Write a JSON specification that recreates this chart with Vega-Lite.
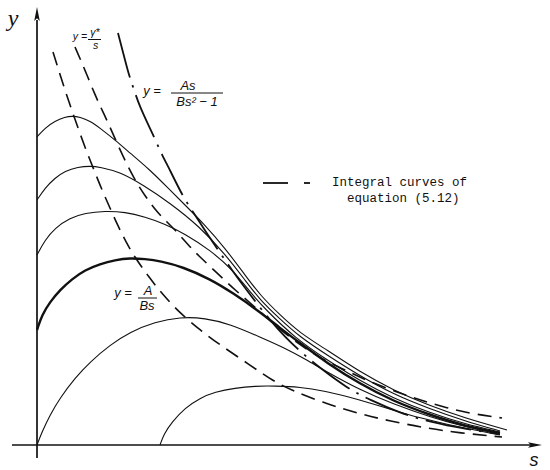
{
  "$schema": "https://vega.github.io/schema/vega-lite/v6.json",
  "width": 550,
  "height": 470,
  "autosize": {"type": "fit", "contains": "padding"},
  "padding": 0,
  "background": "white",
  "config": {"view": {"stroke": null}},
  "datasets": {
    "curves": [
      {"curve": "c1", "s": 0.0, "y": 30.8}, {"curve": "c1", "s": 0.8, "y": 31.7}, {"curve": "c1", "s": 1.8, "y": 32.4}, {"curve": "c1", "s": 2.8, "y": 32.8}, {"curve": "c1", "s": 3.5, "y": 32.9}, {"curve": "c1", "s": 4.3, "y": 32.8}, {"curve": "c1", "s": 5.3, "y": 32.4}, {"curve": "c1", "s": 6.3, "y": 31.7}, {"curve": "c1", "s": 7.8, "y": 30.5}, {"curve": "c1", "s": 9.3, "y": 29.2}, {"curve": "c1", "s": 11.3, "y": 27.5}, {"curve": "c1", "s": 13.0, "y": 25.8}, {"curve": "c1", "s": 14.8, "y": 24.0}, {"curve": "c1", "s": 16.6, "y": 22.2}, {"curve": "c1", "s": 18.8, "y": 19.7}, {"curve": "c1", "s": 20.8, "y": 17.0}, {"curve": "c1", "s": 22.3, "y": 15.0}, {"curve": "c1", "s": 24.3, "y": 13.0}, {"curve": "c1", "s": 26.3, "y": 11.2}, {"curve": "c1", "s": 29.0, "y": 9.5}, {"curve": "c1", "s": 32.3, "y": 7.3}, {"curve": "c1", "s": 35.6, "y": 5.5}, {"curve": "c1", "s": 39.3, "y": 3.9}, {"curve": "c1", "s": 42.8, "y": 2.7}, {"curve": "c1", "s": 47.0, "y": 1.5},
      {"curve": "c2", "s": 0.0, "y": 24.5}, {"curve": "c2", "s": 0.8, "y": 25.7}, {"curve": "c2", "s": 1.8, "y": 26.7}, {"curve": "c2", "s": 2.8, "y": 27.4}, {"curve": "c2", "s": 4.1, "y": 27.8}, {"curve": "c2", "s": 5.3, "y": 27.9}, {"curve": "c2", "s": 6.3, "y": 27.8}, {"curve": "c2", "s": 8.3, "y": 27.3}, {"curve": "c2", "s": 10.6, "y": 26.0}, {"curve": "c2", "s": 13.3, "y": 24.2}, {"curve": "c2", "s": 16.3, "y": 21.8}, {"curve": "c2", "s": 18.8, "y": 19.1}, {"curve": "c2", "s": 20.8, "y": 16.5}, {"curve": "c2", "s": 22.3, "y": 14.5}, {"curve": "c2", "s": 24.3, "y": 12.6}, {"curve": "c2", "s": 26.3, "y": 10.8}, {"curve": "c2", "s": 29.0, "y": 9.0}, {"curve": "c2", "s": 32.3, "y": 6.9}, {"curve": "c2", "s": 35.6, "y": 5.1}, {"curve": "c2", "s": 39.3, "y": 3.6}, {"curve": "c2", "s": 42.8, "y": 2.4}, {"curve": "c2", "s": 46.3, "y": 1.4},
      {"curve": "c3", "s": 0.0, "y": 19.0}, {"curve": "c3", "s": 0.8, "y": 20.5}, {"curve": "c3", "s": 1.8, "y": 21.7}, {"curve": "c3", "s": 3.3, "y": 22.7}, {"curve": "c3", "s": 4.8, "y": 23.2}, {"curve": "c3", "s": 6.8, "y": 23.4}, {"curve": "c3", "s": 8.8, "y": 23.3}, {"curve": "c3", "s": 10.8, "y": 22.8}, {"curve": "c3", "s": 12.8, "y": 22.1}, {"curve": "c3", "s": 14.8, "y": 21.1}, {"curve": "c3", "s": 17.3, "y": 19.5}, {"curve": "c3", "s": 19.6, "y": 17.5}, {"curve": "c3", "s": 21.3, "y": 15.3}, {"curve": "c3", "s": 22.8, "y": 13.6}, {"curve": "c3", "s": 25.8, "y": 10.7}, {"curve": "c3", "s": 29.0, "y": 8.5}, {"curve": "c3", "s": 32.3, "y": 6.4}, {"curve": "c3", "s": 35.6, "y": 4.7}, {"curve": "c3", "s": 39.3, "y": 3.2}, {"curve": "c3", "s": 42.8, "y": 2.1}, {"curve": "c3", "s": 46.3, "y": 1.3},
      {"curve": "c4", "s": 0.0, "y": 11.5}, {"curve": "c4", "s": 0.5, "y": 13.0}, {"curve": "c4", "s": 1.3, "y": 14.3}, {"curve": "c4", "s": 2.3, "y": 15.5}, {"curve": "c4", "s": 3.5, "y": 16.6}, {"curve": "c4", "s": 4.8, "y": 17.5}, {"curve": "c4", "s": 6.3, "y": 18.1}, {"curve": "c4", "s": 7.8, "y": 18.5}, {"curve": "c4", "s": 9.3, "y": 18.7}, {"curve": "c4", "s": 10.8, "y": 18.6}, {"curve": "c4", "s": 12.3, "y": 18.4}, {"curve": "c4", "s": 14.6, "y": 17.8}, {"curve": "c4", "s": 17.3, "y": 16.6}, {"curve": "c4", "s": 19.6, "y": 15.2}, {"curve": "c4", "s": 22.3, "y": 13.3}, {"curve": "c4", "s": 24.3, "y": 11.7}, {"curve": "c4", "s": 26.3, "y": 10.2}, {"curve": "c4", "s": 29.0, "y": 8.2}, {"curve": "c4", "s": 32.3, "y": 6.1}, {"curve": "c4", "s": 35.6, "y": 4.4}, {"curve": "c4", "s": 39.3, "y": 3.0}, {"curve": "c4", "s": 42.8, "y": 1.9}, {"curve": "c4", "s": 46.3, "y": 1.2},
      {"curve": "c5", "s": 0.0, "y": 0.0}, {"curve": "c5", "s": 0.5, "y": 1.3}, {"curve": "c5", "s": 1.3, "y": 3.0}, {"curve": "c5", "s": 2.3, "y": 4.7}, {"curve": "c5", "s": 3.8, "y": 6.7}, {"curve": "c5", "s": 5.3, "y": 8.3}, {"curve": "c5", "s": 7.3, "y": 10.0}, {"curve": "c5", "s": 9.3, "y": 11.3}, {"curve": "c5", "s": 11.8, "y": 12.3}, {"curve": "c5", "s": 14.3, "y": 12.8}, {"curve": "c5", "s": 16.8, "y": 12.7}, {"curve": "c5", "s": 19.3, "y": 12.1}, {"curve": "c5", "s": 22.3, "y": 10.8}, {"curve": "c5", "s": 24.8, "y": 9.7}, {"curve": "c5", "s": 27.0, "y": 8.5}, {"curve": "c5", "s": 29.0, "y": 7.3}, {"curve": "c5", "s": 32.3, "y": 5.5}, {"curve": "c5", "s": 35.6, "y": 4.1}, {"curve": "c5", "s": 39.3, "y": 2.8}, {"curve": "c5", "s": 42.8, "y": 1.8}, {"curve": "c5", "s": 46.3, "y": 1.1},
      {"curve": "c6", "s": 12.3, "y": 0.0}, {"curve": "c6", "s": 12.7, "y": 1.1}, {"curve": "c6", "s": 13.5, "y": 2.3}, {"curve": "c6", "s": 14.8, "y": 3.7}, {"curve": "c6", "s": 16.3, "y": 4.7}, {"curve": "c6", "s": 17.8, "y": 5.3}, {"curve": "c6", "s": 19.8, "y": 5.7}, {"curve": "c6", "s": 21.8, "y": 5.9}, {"curve": "c6", "s": 23.8, "y": 5.9}, {"curve": "c6", "s": 26.3, "y": 5.8}, {"curve": "c6", "s": 28.8, "y": 5.4}, {"curve": "c6", "s": 30.8, "y": 4.9}, {"curve": "c6", "s": 33.3, "y": 4.2}, {"curve": "c6", "s": 35.6, "y": 3.5}, {"curve": "c6", "s": 38.3, "y": 2.7}, {"curve": "c6", "s": 41.3, "y": 2.0}, {"curve": "c6", "s": 43.8, "y": 1.5}, {"curve": "c6", "s": 46.3, "y": 1.0},
      {"curve": "d1", "s": 1.6, "y": 39.3}, {"curve": "d1", "s": 2.1, "y": 37.7}, {"curve": "d1", "s": 2.6, "y": 36.1}, {"curve": "d1", "s": 3.3, "y": 34.0}, {"curve": "d1", "s": 4.1, "y": 31.7}, {"curve": "d1", "s": 4.9, "y": 29.5}, {"curve": "d1", "s": 5.7, "y": 27.5}, {"curve": "d1", "s": 6.5, "y": 25.5}, {"curve": "d1", "s": 7.3, "y": 23.7}, {"curve": "d1", "s": 8.1, "y": 21.9}, {"curve": "d1", "s": 8.9, "y": 20.3}, {"curve": "d1", "s": 9.7, "y": 18.9}, {"curve": "d1", "s": 11.1, "y": 16.9}, {"curve": "d1", "s": 12.6, "y": 15.0}, {"curve": "d1", "s": 14.3, "y": 13.2}, {"curve": "d1", "s": 16.3, "y": 11.5}, {"curve": "d1", "s": 18.3, "y": 10.0}, {"curve": "d1", "s": 21.3, "y": 8.0}, {"curve": "d1", "s": 23.6, "y": 6.4}, {"curve": "d1", "s": 25.6, "y": 5.4}, {"curve": "d1", "s": 29.0, "y": 4.1}, {"curve": "d1", "s": 32.3, "y": 3.1}, {"curve": "d1", "s": 35.3, "y": 2.4}, {"curve": "d1", "s": 38.8, "y": 1.7}, {"curve": "d1", "s": 42.3, "y": 1.2}, {"curve": "d1", "s": 46.5, "y": 0.8},
      {"curve": "d2", "s": 3.8, "y": 39.8}, {"curve": "d2", "s": 4.8, "y": 37.5}, {"curve": "d2", "s": 5.8, "y": 35.0}, {"curve": "d2", "s": 6.6, "y": 33.3}, {"curve": "d2", "s": 7.3, "y": 31.8}, {"curve": "d2", "s": 8.3, "y": 29.5}, {"curve": "d2", "s": 9.6, "y": 26.8}, {"curve": "d2", "s": 10.8, "y": 24.9}, {"curve": "d2", "s": 12.0, "y": 23.3}, {"curve": "d2", "s": 13.0, "y": 22.3}, {"curve": "d2", "s": 14.0, "y": 21.3}, {"curve": "d2", "s": 15.3, "y": 19.8}, {"curve": "d2", "s": 16.3, "y": 18.8}, {"curve": "d2", "s": 18.0, "y": 17.2}, {"curve": "d2", "s": 19.8, "y": 15.5}, {"curve": "d2", "s": 21.8, "y": 13.8}, {"curve": "d2", "s": 24.0, "y": 11.8}, {"curve": "d2", "s": 26.3, "y": 10.0}, {"curve": "d2", "s": 28.3, "y": 8.7}, {"curve": "d2", "s": 30.8, "y": 7.5}, {"curve": "d2", "s": 33.3, "y": 6.3}, {"curve": "d2", "s": 36.0, "y": 5.3}, {"curve": "d2", "s": 38.3, "y": 4.5}, {"curve": "d2", "s": 41.0, "y": 3.7}, {"curve": "d2", "s": 43.6, "y": 3.1}, {"curve": "d2", "s": 46.5, "y": 2.7},
      {"curve": "dd", "s": 8.1, "y": 41.2}, {"curve": "dd", "s": 8.6, "y": 39.3}, {"curve": "dd", "s": 9.1, "y": 37.3}, {"curve": "dd", "s": 9.7, "y": 35.5}, {"curve": "dd", "s": 10.3, "y": 33.8}, {"curve": "dd", "s": 11.0, "y": 32.3}, {"curve": "dd", "s": 11.8, "y": 30.6}, {"curve": "dd", "s": 12.5, "y": 29.0}, {"curve": "dd", "s": 13.3, "y": 27.5}, {"curve": "dd", "s": 14.6, "y": 24.8}, {"curve": "dd", "s": 15.8, "y": 23.0}, {"curve": "dd", "s": 17.1, "y": 21.0}, {"curve": "dd", "s": 18.3, "y": 19.2}, {"curve": "dd", "s": 19.5, "y": 17.5}, {"curve": "dd", "s": 20.8, "y": 15.7}, {"curve": "dd", "s": 22.1, "y": 14.0}, {"curve": "dd", "s": 23.3, "y": 12.5}, {"curve": "dd", "s": 24.8, "y": 10.8}, {"curve": "dd", "s": 26.5, "y": 9.2}, {"curve": "dd", "s": 28.3, "y": 7.7}, {"curve": "dd", "s": 31.0, "y": 5.7}, {"curve": "dd", "s": 33.3, "y": 4.5}, {"curve": "dd", "s": 36.3, "y": 3.2}, {"curve": "dd", "s": 39.3, "y": 2.3}, {"curve": "dd", "s": 42.8, "y": 1.6}, {"curve": "dd", "s": 46.3, "y": 1.1}
    ],
    "axes": [
      {"axis": "s", "s": -2.5, "y": 0}, {"axis": "s", "s": 50.0, "y": 0},
      {"axis": "y", "s": 0, "y": -1.3}, {"axis": "y", "s": 0, "y": 42.5}
    ],
    "arrows": [
      {"axis": "s", "s": 49.8, "y": 0},
      {"axis": "y", "s": 0, "y": 43.1}
    ],
    "rules": [
      {"kind": "bar", "s": 5.1, "s2": 6.4, "y": 40.55},
      {"kind": "bar", "s": 13.4, "s2": 18.6, "y": 35.2},
      {"kind": "bar", "s": 10.1, "s2": 12.0, "y": 14.7},
      {"kind": "key", "s": 22.6, "s2": 25.1, "y": 26.2},
      {"kind": "key", "s": 26.7, "s2": 27.3, "y": 26.2}
    ],
    "labels": [
      {"group": "mathsmall", "s": 4.3, "y": 40.8, "text": "y ="},
      {"group": "mathsmall", "s": 5.8, "y": 41.25, "text": "γ*"},
      {"group": "mathsmall", "s": 5.85, "y": 39.95, "text": "s"},
      {"group": "math", "s": 11.5, "y": 35.4, "text": "y ="},
      {"group": "math", "s": 15.1, "y": 35.95, "text": "As"},
      {"group": "math", "s": 16.0, "y": 34.35, "text": "Bs² − 1"},
      {"group": "math", "s": 8.6, "y": 15.2, "text": "y ="},
      {"group": "math", "s": 11.1, "y": 15.4, "text": "A"},
      {"group": "math", "s": 11.0, "y": 13.9, "text": "Bs"},
      {"group": "axisy", "s": -2.4, "y": 42.6, "text": "y"},
      {"group": "axiss", "s": 49.7, "y": -1.6, "text": "s"},
      {"group": "legend", "s": 29.5, "y": 26.3, "text": "Integral curves of"},
      {"group": "legend", "s": 31.0, "y": 24.7, "text": "equation (5.12)"}
    ]
  },
  "encoding": {
    "x": {"field": "s", "type": "quantitative", "scale": {"domain": [-3.7, 51.3], "nice": false, "zero": false}, "axis": null},
    "y": {"field": "y", "type": "quantitative", "scale": {"domain": [-2.5, 44.5], "nice": false, "zero": false}, "axis": null}
  },
  "layer": [
    {
      "data": {"name": "curves"},
      "transform": [{"filter": "indexof(['c1','c2','c3','c5','c6'], datum.curve) >= 0"}],
      "mark": {"type": "line", "color": "#111", "strokeWidth": 1.1, "interpolate": "basis"},
      "encoding": {"detail": {"field": "curve"}}
    },
    {
      "data": {"name": "curves"},
      "transform": [{"filter": "datum.curve === 'c4'"}],
      "mark": {"type": "line", "color": "#111", "strokeWidth": 2.4, "interpolate": "basis"},
      "encoding": {"detail": {"field": "curve"}}
    },
    {
      "data": {"name": "curves"},
      "transform": [{"filter": "datum.curve === 'd1' || datum.curve === 'd2'"}],
      "mark": {"type": "line", "color": "#111", "strokeWidth": 1.6, "strokeDash": [14, 8], "interpolate": "basis"},
      "encoding": {"detail": {"field": "curve"}}
    },
    {
      "data": {"name": "curves"},
      "transform": [{"filter": "datum.curve === 'dd'"}],
      "mark": {"type": "line", "color": "#111", "strokeWidth": 1.8, "strokeDash": [46, 8, 2.5, 8], "interpolate": "basis"},
      "encoding": {"detail": {"field": "curve"}}
    },
    {
      "data": {"name": "axes"},
      "mark": {"type": "line", "color": "#111", "strokeWidth": 1.7},
      "encoding": {"detail": {"field": "axis"}}
    },
    {
      "data": {"name": "arrows"},
      "transform": [{"filter": "datum.axis === 's'"}],
      "mark": {"type": "point", "filled": true, "color": "#111", "opacity": 1, "size": 196, "shape": "M-1,-0.4L1,0L-1,0.4L-0.6,0Z"}
    },
    {
      "data": {"name": "arrows"},
      "transform": [{"filter": "datum.axis === 'y'"}],
      "mark": {"type": "point", "filled": true, "color": "#111", "opacity": 1, "size": 196, "shape": "M-0.4,1L0,-1L0.4,1L0,0.6Z"}
    },
    {
      "data": {"name": "rules"},
      "transform": [{"filter": "datum.kind === 'bar'"}],
      "mark": {"type": "rule", "color": "#111", "strokeWidth": 1},
      "encoding": {"x2": {"field": "s2"}}
    },
    {
      "data": {"name": "rules"},
      "transform": [{"filter": "datum.kind === 'key'"}],
      "mark": {"type": "rule", "color": "#111", "strokeWidth": 1.8},
      "encoding": {"x2": {"field": "s2"}}
    },
    {
      "data": {"name": "labels"},
      "transform": [{"filter": "datum.group === 'mathsmall'"}],
      "mark": {"type": "text", "font": "Liberation Sans", "fontStyle": "italic", "fontSize": 10.5, "color": "#111", "align": "center", "baseline": "middle"},
      "encoding": {"text": {"field": "text"}}
    },
    {
      "data": {"name": "labels"},
      "transform": [{"filter": "datum.group === 'math'"}],
      "mark": {"type": "text", "font": "Liberation Sans", "fontStyle": "italic", "fontSize": 13, "color": "#111", "align": "center", "baseline": "middle"},
      "encoding": {"text": {"field": "text"}}
    },
    {
      "data": {"name": "labels"},
      "transform": [{"filter": "datum.group === 'axisy'"}],
      "mark": {"type": "text", "font": "Liberation Serif", "fontStyle": "italic", "fontSize": 24, "color": "#111", "align": "center", "baseline": "middle"},
      "encoding": {"text": {"field": "text"}}
    },
    {
      "data": {"name": "labels"},
      "transform": [{"filter": "datum.group === 'axiss'"}],
      "mark": {"type": "text", "font": "Liberation Sans", "fontStyle": "italic", "fontSize": 18, "color": "#111", "align": "center", "baseline": "middle"},
      "encoding": {"text": {"field": "text"}}
    },
    {
      "data": {"name": "labels"},
      "transform": [{"filter": "datum.group === 'legend'"}],
      "mark": {"type": "text", "font": "Liberation Mono", "fontSize": 12.5, "color": "#111", "align": "left", "baseline": "middle"},
      "encoding": {"text": {"field": "text"}}
    }
  ]
}
